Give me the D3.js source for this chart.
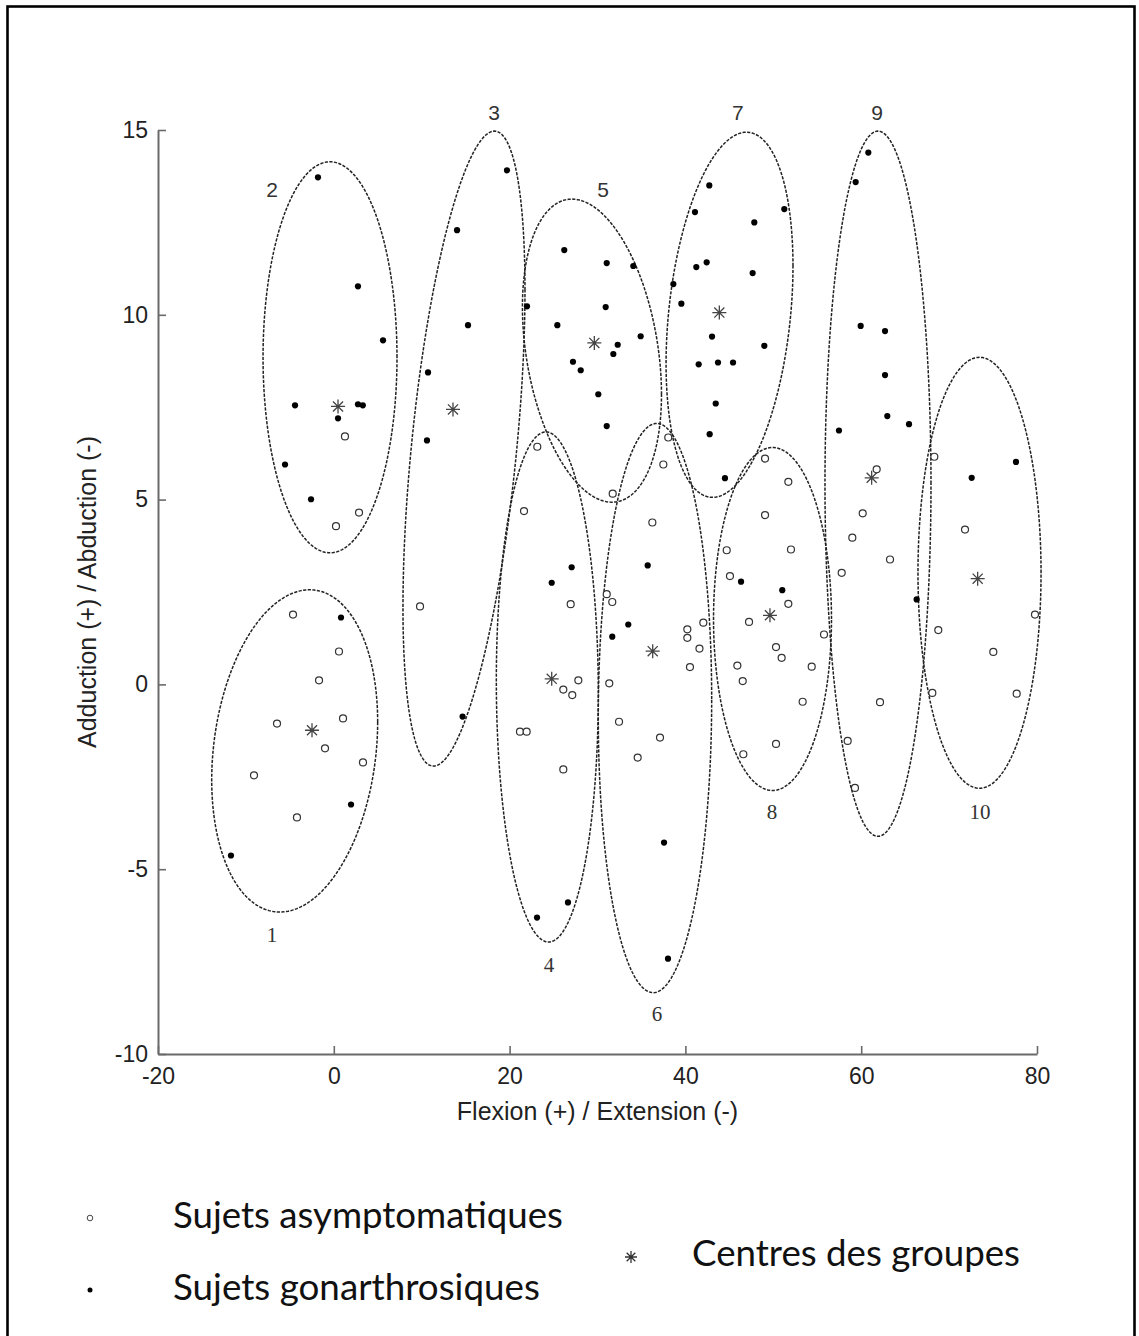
<!DOCTYPE html>
<html><head><meta charset="utf-8">
<script src="https://cdn.jsdelivr.net/npm/d3@7"></script>
<style>body{margin:0;background:#fff} svg{display:block}</style>
</head><body>
<svg id="chart" width="1139" height="1336"></svg>
<script>
// ---------- data ----------
const xTicks = [-20, 0, 20, 40, 60, 80];
const yTicks = [-10, -5, 0, 5, 10, 15];
const xTitle = "Flexion (+) / Extension (-)";
const yTitle = "Adduction (+) / Abduction (-)";

// Sujets asymptomatiques (open circles) [flexion, adduction]
const asymptomatic = [
  [-4.64,1.89],[-1.68,0.11],[0.59,0.89],[-6.46,-1.06],[1.05,-0.92],[-1.0,-1.73],[-9.08,-2.46],[3.32,-2.11],[-4.19,-3.60],
  [1.27,6.71],[2.87,4.65],[0.25,4.28],
  [9.81,2.11],
  [23.15,6.43],[21.64,4.69],[26.95,2.17],[27.82,0.11],[26.11,-0.14],[27.13,-0.29],[21.18,-1.28],[21.94,-1.28],[26.11,-2.30],
  [31.73,5.16],[37.49,5.95],[38.05,6.68],[36.24,4.38],[31.05,2.44],[31.68,2.23],[40.22,1.49],[40.22,1.26],[41.6,0.97],[40.52,0.47],[42.04,1.67],[31.34,0.03],[32.45,-1.01],[37.11,-1.44],[34.57,-1.98],
  [49.06,6.11],[51.71,5.48],[49.06,4.58],[44.70,3.63],[52.01,3.65],[45.07,2.93],[51.71,2.18],[47.24,1.69],[55.77,1.35],[50.31,1.01],[50.95,0.72],[45.91,0.51],[54.37,0.48],[46.52,0.09],[53.34,-0.47],[50.31,-1.61],[46.59,-1.89],
  [61.76,5.82],[60.17,4.63],[58.99,3.97],[63.28,3.38],[57.78,3.02],[62.14,-0.48],[58.46,-1.53],[59.29,-2.80],
  [68.32,6.16],[71.81,4.19],[79.77,1.89],[68.77,1.47],[75.03,0.88],[68.09,-0.23],[77.69,-0.25]
];

// Sujets gonarthrosiques (filled dots)
const gonarthrosis = [
  [0.82,1.81],[1.96,-3.25],[-11.70,-4.63],
  [-1.80,13.72],[2.75,10.77],[5.60,9.31],[-4.41,7.55],[2.75,7.58],[3.30,7.55],[0.48,7.20],[-5.55,5.95],[-2.59,5.01],
  [19.70,13.91],[14.02,12.29],[15.27,9.72],[10.72,8.44],[10.6,6.60],[14.65,-0.87],[21.98,10.23],
  [26.22,11.75],[31.05,11.40],[34.07,11.32],[30.93,10.21],[25.43,9.72],[34.91,9.42],[32.30,9.19],[31.80,8.94],[27.21,8.73],[28.09,8.50],[30.09,7.85],[31.05,6.99],
  [42.72,13.50],[41.09,12.78],[51.25,12.86],[47.84,12.50],[42.42,11.42],[41.24,11.29],[47.65,11.13],[38.63,10.83],[39.54,10.30],[43.03,9.41],[48.98,9.16],[41.51,8.66],[43.71,8.71],[45.42,8.71],[43.45,7.60],[42.76,6.77],[44.5,5.58],
  [27.06,3.17],[24.79,2.75],[35.71,3.22],[33.50,1.62],[31.68,1.29],[23.12,-6.31],[26.64,-5.90],[37.57,-4.28],[38.02,-7.42],
  [46.33,2.78],[51.02,2.55],
  [60.81,14.39],[59.37,13.59],[59.94,9.70],[62.71,9.56],[62.71,8.37],[62.97,7.26],[65.44,7.04],[57.47,6.87],[66.31,2.30],
  [77.61,6.02],[72.57,5.59]
];

// Centres des groupes [group, x, y]
const groupCentres = [
  [1,-2.48,-1.24],[2,0.48,7.52],[3,13.56,7.44],[4,24.79,0.15],[5,29.64,9.24],
  [6,36.28,0.90],[7,43.86,10.06],[8,49.62,1.87],[9,61.19,5.59],[10,73.25,2.86]
];

// Group ellipses [group, centreX, centreY, halfWidthX, halfHeightY, xOffsetOfTop]
const ellipses = [
  [1,-4.45,-1.80,9.44,4.36,1.70],
  [2,-0.43,8.85,7.62,5.29,0.0],
  [3,14.81,6.38,6.94,8.59,3.47],
  [4,24.29,-0.07,5.80,6.90,-0.15],
  [5,29.37,9.03,7.91,4.10,-2.28],
  [6,36.54,-0.64,6.45,7.70,0.2],
  [7,45.02,10.0,7.22,4.94,1.93],
  [8,49.91,1.77,6.71,4.64,0.0],
  [9,61.91,5.43,6.03,9.54,0.0],
  [10,73.46,3.02,7.0,5.83,0.0]
];

// Group number labels [label, x, y]
const groupLabels = [
  ["1",-7.03,-6.77],["2",-7.03,13.40],["3",18.23,15.48],["4",24.48,-7.58],["5",30.63,13.40],
  ["6",36.77,-8.93],["7",45.98,15.48],["8",49.85,-3.44],["9",61.80,15.48],["10",73.52,-3.44]
];
const serifLabels = ["1","4","6","8","10"];

const legendLabels = ["Sujets asymptomatiques", "Sujets gonarthrosiques", "Centres des groupes"];

// ---------- drawing ----------
const svg = d3.select("#chart");
const x = d3.scaleLinear().domain([-20, 80]).range([158, 1037]);
const y = d3.scaleLinear().domain([-10, 15]).range([1054, 130]);

svg.append("rect").attr("x", 7.5).attr("y", 6.5).attr("width", 1127).attr("height", 1345)
  .attr("fill", "none").attr("stroke", "#000").attr("stroke-width", 2.6);

const axisFont = "'Liberation Sans', Arial, sans-serif";

const gx = svg.append("g").attr("transform", `translate(0,${y(-10)})`)
  .call(d3.axisBottom(x).tickValues(xTicks).tickSizeInner(-8).tickSizeOuter(0).tickPadding(14).tickFormat(d3.format("d")));
const gy = svg.append("g").attr("transform", `translate(${x(-20)},0)`)
  .call(d3.axisLeft(y).tickValues(yTicks).tickSizeInner(-8).tickSizeOuter(0).tickPadding(10).tickFormat(d3.format("d")));
[gx, gy].forEach(g => {
  g.select(".domain").attr("stroke", "#6a6a6a").attr("stroke-width", 2);
  g.selectAll(".tick line").attr("stroke", "#6a6a6a").attr("stroke-width", 1.6);
  g.selectAll(".tick text").attr("fill", "#222").style("font-family", axisFont).style("font-size", "23px");
});
gx.selectAll(".tick text").text(d => d < 0 ? "-" + Math.abs(d) : d);
gy.selectAll(".tick text").text(d => d < 0 ? "-" + Math.abs(d) : d);

svg.append("text").attr("x", x(30)).attr("y", 1120).attr("text-anchor", "middle")
  .style("font-family", axisFont).style("font-size", "25px").attr("fill", "#222").text(xTitle);
svg.append("text").attr("transform", `translate(96,${y(2.5)}) rotate(-90)`).attr("text-anchor", "middle")
  .style("font-family", axisFont).style("font-size", "25px").attr("fill", "#222").text(yTitle);

// ellipses
const tVals = d3.range(0, 361, 1.5).map(d => d * Math.PI / 180);
const line = d3.line().x(d => x(d[0])).y(d => y(d[1]));
svg.append("g").selectAll("path").data(ellipses).join("path")
  .attr("d", e => {
    const [g, cx, cy, a, h, s] = e;
    const C = h * s / a, B = Math.sqrt(h * h - C * C);
    return line(tVals.map(t => [cx + a * Math.cos(t), cy + B * Math.sin(t) + C * Math.cos(t)])) + "Z";
  })
  .attr("fill", "none").attr("stroke", "#222").attr("stroke-width", 1.5).attr("stroke-dasharray", "3.2,1.4");

// group labels
svg.append("g").selectAll("text").data(groupLabels).join("text")
  .attr("x", d => x(d[1])).attr("y", d => y(d[2])).attr("text-anchor", "middle").attr("dominant-baseline", "central")
  .style("font-family", d => serifLabels.includes(d[0]) ? "'Liberation Serif', serif" : "'Liberation Sans', sans-serif")
  .style("font-size", "21px").attr("fill", "#333").text(d => d[0]);

// points
svg.append("g").selectAll("circle").data(asymptomatic).join("circle")
  .attr("cx", d => x(d[0])).attr("cy", d => y(d[1])).attr("r", 3.5)
  .attr("fill", "#fff").attr("stroke", "#333").attr("stroke-width", 1.2);
svg.append("g").selectAll("circle").data(gonarthrosis).join("circle")
  .attr("cx", d => x(d[0])).attr("cy", d => y(d[1])).attr("r", 3.1).attr("fill", "#000");

function starPath(L) {
  const dd = L * 0.72;
  return `M${-L},0L${L},0M0,${-L}L0,${L}M${-dd},${-dd}L${dd},${dd}M${-dd},${dd}L${dd},${-dd}`;
}
svg.append("g").selectAll("path").data(groupCentres).join("path")
  .attr("transform", d => `translate(${x(d[1])},${y(d[2])})`).attr("d", starPath(7))
  .attr("stroke", "#444").attr("stroke-width", 1.3).attr("fill", "none");

// legend
const legFont = "Lato, 'Open Sans', sans-serif";
const leg = svg.append("g");
leg.append("circle").attr("cx", 90).attr("cy", 1218).attr("r", 2.8).attr("fill", "#fff").attr("stroke", "#444").attr("stroke-width", 1);
leg.append("circle").attr("cx", 90).attr("cy", 1290).attr("r", 2.5).attr("fill", "#000");
leg.append("path").attr("transform", "translate(631,1257)").attr("d", starPath(6)).attr("stroke", "#333").attr("stroke-width", 1.3);
const legPos = [[173, 1228, 390], [173, 1300, 367], [692, 1266, 328]];
legendLabels.forEach((t, i) => {
  const el = leg.append("text").attr("x", legPos[i][0]).attr("y", legPos[i][1])
    .style("font-family", legFont).style("font-size", "32px").attr("fill", "#111").text(t);
  const w = el.node().getComputedTextLength();
  el.style("font-size", (32 * legPos[i][2] / w).toFixed(2) + "px");
});
</script>
</body></html>
